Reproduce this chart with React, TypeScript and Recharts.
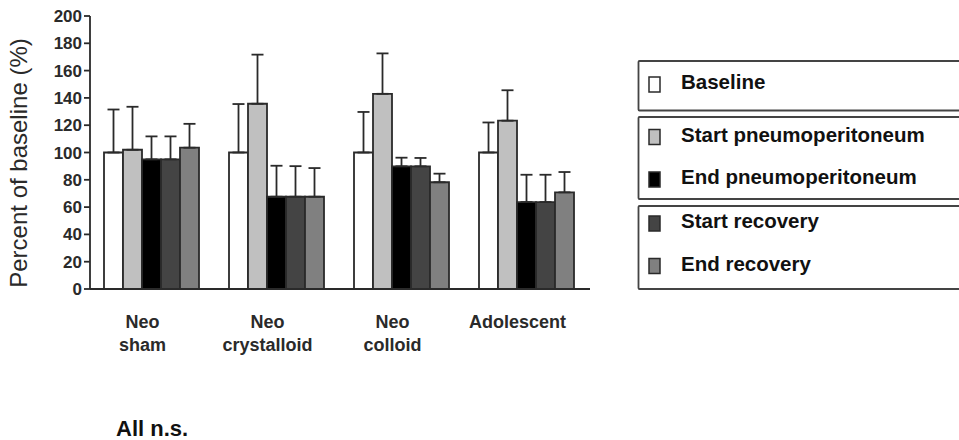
import React from 'react';
import { BarChart, Bar, XAxis, YAxis, ErrorBar } from 'recharts';

const categories = ['Neo\nsham', 'Neo\ncrystalloid', 'Neo\ncolloid', 'Adolescent'];
const seriesNames = ['Baseline', 'Start pneumoperitoneum', 'End pneumoperitoneum', 'Start recovery', 'End recovery'];
const seriesColors = ['#ffffff', '#c0c0c0', '#000000', '#444444', '#808080'];
const baseline = [100, 100, 100, 100];
const baselineTop = [131.5, 135.5, 129.7, 122];
const startPneumo = [102, 135.7, 143, 123.3];
const startPneumoTop = [133.5, 171.7, 172.6, 145.6];
const endPneumo = [95, 67.6, 89.9, 63.7];
const endPneumoTop = [111.8, 90.3, 96.2, 83.7];
const startRecovery = [95, 67.6, 89.9, 63.7];
const startRecoveryTop = [111.8, 90, 96, 83.7];
const endRecovery = [103.5, 67.6, 78.2, 70.8];
const endRecoveryTop = [121, 88.6, 84.5, 85.7];
const yTicks = [0, 20, 40, 60, 80, 100, 120, 140, 160, 180, 200];
const legendGroups = [[0], [1, 2], [3, 4]];
const footnote = 'All n.s.';

const values = [baseline, startPneumo, endPneumo, startRecovery, endRecovery];
const tops = [baselineTop, startPneumoTop, endPneumoTop, startRecoveryTop, endRecoveryTop];

const data = categories.map((c, i) => {
  const row: any = { name: c };
  values.forEach((v, s) => {
    row['s' + s] = v[i];
    row['e' + s] = [0, Math.max(0, tops[s][i] - v[i])];
  });
  return row;
});

const FONT = '"Liberation Sans", Arial, Helvetica, sans-serif';
const INK = '#2a2a2a';

const CatTick = (props: any) => {
  const { x, y, payload } = props;
  const lines = String(payload.value).split('\n');
  return (
    <text x={x - 10} y={y} textAnchor="middle" fontFamily={FONT} fontWeight="bold" fontSize={18} fill={INK}>
      {lines.map((l, i) => (
        <tspan key={i} x={x - 10} dy={i === 0 ? 39 : 23}>{l}</tspan>
      ))}
    </text>
  );
};

const YLabel = () => (
  <text x={27} y={163} transform="rotate(-90 27 163)" textAnchor="middle" fontFamily={FONT} fontSize={24} fill={INK}>
    Percent of baseline (%)
  </text>
);

const boxTops = [61, 117, 206];
const boxHeights = [49.5, 82, 83];
const rowBaselines = [[89], [141.5, 184], [228, 270.5]];

export default function App() {
  return (
    <div style={{ position: 'absolute', left: 0, top: 0, width: 959, height: 440, overflow: 'hidden', background: '#fff' }}>
      <BarChart width={959} height={440} data={data} margin={{ top: 16, right: 369, bottom: 121, left: 0 }} barCategoryGap={14} barGap={0}>
        <XAxis dataKey="name" height={30} tick={<CatTick />} tickLine={false} tickSize={0} tickMargin={0} axisLine={{ stroke: INK, strokeWidth: 1.8 }} interval={0} />
        <YAxis
          width={90}
          domain={[0, 200]}
          ticks={yTicks}
          interval={0}
          tickSize={6}
          tickMargin={2}
          axisLine={{ stroke: INK, strokeWidth: 1.8 }}
          tickLine={{ stroke: INK, strokeWidth: 1.8 }}
          tick={{ fontFamily: FONT, fontWeight: 'bold', fontSize: 17, fill: INK }}
          label={<YLabel />}
        />
        {seriesNames.map((n, s) => (
          <Bar key={n} dataKey={'s' + s} name={n} fill={seriesColors[s]} stroke={INK} strokeWidth={1.8} isAnimationActive={false}>
            <ErrorBar dataKey={'e' + s} width={6} stroke={INK} strokeWidth={1.8} direction="y" />
          </Bar>
        ))}
      </BarChart>
      <svg width={959} height={440} style={{ position: 'absolute', left: 0, top: 0, pointerEvents: 'none' }}>
        {legendGroups.map((g, gi) => (
          <g key={gi}>
            <rect x={638.5} y={boxTops[gi]} width={340} height={boxHeights[gi]} fill="none" stroke="#444" strokeWidth={1.8} rx={1} />
            {g.map((s, ri) => (
              <g key={s}>
                <rect x={649} y={rowBaselines[gi][ri] - 12} width={11} height={15} fill={seriesColors[s]} stroke={INK} strokeWidth={1.5} />
                <text x={681} y={rowBaselines[gi][ri]} fontFamily={FONT} fontWeight="bold" fontSize={20.5} fill="#111">{seriesNames[s]}</text>
              </g>
            ))}
          </g>
        ))}
        <text x={116} y={436} fontFamily={FONT} fontWeight="bold" fontSize={22} fill="#111">{footnote}</text>
      </svg>
    </div>
  );
}
